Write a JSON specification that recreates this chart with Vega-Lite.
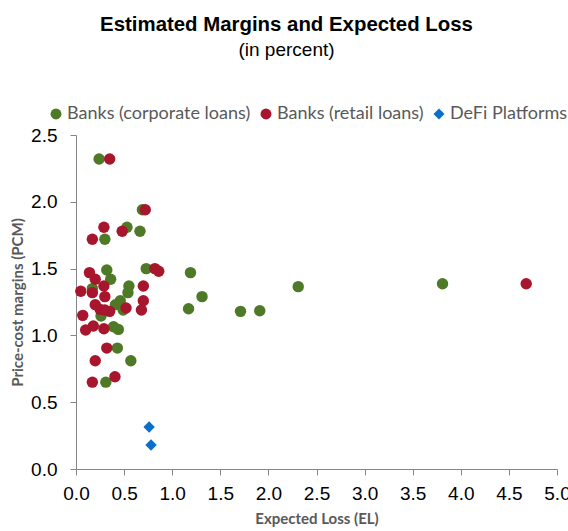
{
  "$schema": "https://vega.github.io/schema/vega-lite/v6.json",
  "autosize": "none",
  "width": 481,
  "height": 334,
  "padding": {"left": 76, "top": 135, "right": 11, "bottom": 62},
  "title": {
    "text": "Estimated Margins and Expected Loss",
    "subtitle": "(in percent)",
    "frame": "group",
    "anchor": "middle",
    "dx": -30,
    "offset": 45,
    "font": "Liberation Sans",
    "fontSize": 20.4,
    "fontWeight": "bold",
    "color": "#000000",
    "subtitleFont": "Liberation Sans",
    "subtitleFontSize": 19,
    "subtitleColor": "#000000",
    "subtitlePadding": 6
  },
  "config": {"view": {"stroke": null}},
  "data": {
    "values": [
      {"series": "Banks (corporate loans)", "el": 0.24, "pcm": 2.32},
      {"series": "Banks (corporate loans)", "el": 0.69, "pcm": 1.94},
      {"series": "Banks (corporate loans)", "el": 0.53, "pcm": 1.81},
      {"series": "Banks (corporate loans)", "el": 0.665, "pcm": 1.78},
      {"series": "Banks (corporate loans)", "el": 0.30, "pcm": 1.72},
      {"series": "Banks (corporate loans)", "el": 0.32, "pcm": 1.49},
      {"series": "Banks (corporate loans)", "el": 0.73, "pcm": 1.50},
      {"series": "Banks (corporate loans)", "el": 1.19, "pcm": 1.47},
      {"series": "Banks (corporate loans)", "el": 0.36, "pcm": 1.42},
      {"series": "Banks (corporate loans)", "el": 0.17, "pcm": 1.35},
      {"series": "Banks (corporate loans)", "el": 0.55, "pcm": 1.37},
      {"series": "Banks (corporate loans)", "el": 0.54, "pcm": 1.32},
      {"series": "Banks (corporate loans)", "el": 1.31, "pcm": 1.29},
      {"series": "Banks (corporate loans)", "el": 0.46, "pcm": 1.26},
      {"series": "Banks (corporate loans)", "el": 0.41, "pcm": 1.23},
      {"series": "Banks (corporate loans)", "el": 0.49, "pcm": 1.19},
      {"series": "Banks (corporate loans)", "el": 1.17, "pcm": 1.20},
      {"series": "Banks (corporate loans)", "el": 0.26, "pcm": 1.145},
      {"series": "Banks (corporate loans)", "el": 1.71, "pcm": 1.18},
      {"series": "Banks (corporate loans)", "el": 1.91, "pcm": 1.185},
      {"series": "Banks (corporate loans)", "el": 2.31, "pcm": 1.365},
      {"series": "Banks (corporate loans)", "el": 3.81, "pcm": 1.387},
      {"series": "Banks (corporate loans)", "el": 0.39, "pcm": 1.065},
      {"series": "Banks (corporate loans)", "el": 0.44, "pcm": 1.045},
      {"series": "Banks (corporate loans)", "el": 0.43, "pcm": 0.905},
      {"series": "Banks (corporate loans)", "el": 0.57, "pcm": 0.81},
      {"series": "Banks (corporate loans)", "el": 0.31, "pcm": 0.65},
      {"series": "Banks (retail loans)", "el": 0.35, "pcm": 2.32},
      {"series": "Banks (retail loans)", "el": 0.72, "pcm": 1.94},
      {"series": "Banks (retail loans)", "el": 0.29, "pcm": 1.81},
      {"series": "Banks (retail loans)", "el": 0.48, "pcm": 1.78},
      {"series": "Banks (retail loans)", "el": 0.17, "pcm": 1.72},
      {"series": "Banks (retail loans)", "el": 0.82, "pcm": 1.50},
      {"series": "Banks (retail loans)", "el": 0.86, "pcm": 1.48},
      {"series": "Banks (retail loans)", "el": 0.14, "pcm": 1.47},
      {"series": "Banks (retail loans)", "el": 0.20, "pcm": 1.42},
      {"series": "Banks (retail loans)", "el": 0.05, "pcm": 1.33},
      {"series": "Banks (retail loans)", "el": 0.17, "pcm": 1.32},
      {"series": "Banks (retail loans)", "el": 0.29, "pcm": 1.37},
      {"series": "Banks (retail loans)", "el": 0.70, "pcm": 1.37},
      {"series": "Banks (retail loans)", "el": 0.30, "pcm": 1.29},
      {"series": "Banks (retail loans)", "el": 0.70, "pcm": 1.26},
      {"series": "Banks (retail loans)", "el": 0.20, "pcm": 1.23},
      {"series": "Banks (retail loans)", "el": 0.25, "pcm": 1.195},
      {"series": "Banks (retail loans)", "el": 0.30, "pcm": 1.19},
      {"series": "Banks (retail loans)", "el": 0.35, "pcm": 1.18},
      {"series": "Banks (retail loans)", "el": 0.52, "pcm": 1.205},
      {"series": "Banks (retail loans)", "el": 0.68, "pcm": 1.19},
      {"series": "Banks (retail loans)", "el": 0.07, "pcm": 1.15},
      {"series": "Banks (retail loans)", "el": 0.10, "pcm": 1.04},
      {"series": "Banks (retail loans)", "el": 0.18, "pcm": 1.07},
      {"series": "Banks (retail loans)", "el": 0.29, "pcm": 1.05},
      {"series": "Banks (retail loans)", "el": 0.32, "pcm": 0.905},
      {"series": "Banks (retail loans)", "el": 0.20, "pcm": 0.81},
      {"series": "Banks (retail loans)", "el": 0.17, "pcm": 0.65},
      {"series": "Banks (retail loans)", "el": 0.405, "pcm": 0.69},
      {"series": "Banks (retail loans)", "el": 4.68, "pcm": 1.387},
      {"series": "DeFi Platforms", "el": 0.76, "pcm": 0.314},
      {"series": "DeFi Platforms", "el": 0.78, "pcm": 0.18}
    ]
  },
  "mark": {"type": "point", "filled": true, "opacity": 1, "size": 130},
  "encoding": {
    "x": {
      "field": "el", "type": "quantitative",
      "scale": {"domain": [0, 5], "nice": false, "zero": true},
      "axis": {
        "title": "Expected Loss (EL)",
        "values": [0, 0.5, 1, 1.5, 2, 2.5, 3, 3.5, 4, 4.5, 5],
        "format": ".1f",
        "grid": false,
        "labelFlush": false,
        "labelBound": false,
        "domainColor": "#868686",
        "tickColor": "#868686",
        "tickSize": 6,
        "labelFont": "Liberation Sans",
        "labelFontSize": 19,
        "labelColor": "#000000",
        "labelPadding": 9,
        "titleFont": "Lato",
        "titleFontSize": 15,
        "titleFontWeight": "bold",
        "titleColor": "#595959",
        "titlePadding": 8
      }
    },
    "y": {
      "field": "pcm", "type": "quantitative",
      "scale": {"domain": [0, 2.5], "nice": false},
      "axis": {
        "title": "Price-cost margins (PCM)",
        "values": [0, 0.5, 1, 1.5, 2, 2.5],
        "format": ".1f",
        "grid": false,
        "domainColor": "#868686",
        "tickColor": "#868686",
        "tickSize": 6,
        "labelFont": "Liberation Sans",
        "labelFontSize": 19,
        "labelColor": "#000000",
        "labelPadding": 13,
        "titleFont": "Lato",
        "titleFontSize": 15,
        "titleFontWeight": "bold",
        "titleColor": "#595959",
        "titlePadding": 5
      }
    },
    "color": {
      "field": "series", "type": "nominal",
      "scale": {
        "domain": ["Banks (corporate loans)", "Banks (retail loans)", "DeFi Platforms"],
        "range": ["#4E7A27", "#A8162E", "#0A6FCB"]
      },
      "legend": {
        "title": null,
        "orient": "none",
        "direction": "horizontal",
        "legendX": -29,
        "legendY": -30,
        "labelFont": "Lato",
        "labelFontSize": 18,
        "labelLimit": 400,
        "labelColor": "#595959",
        "symbolSize": 120,
        "symbolOpacity": 1,
        "columnPadding": 6,
        "labelOffset": 2
      }
    },
    "shape": {
      "field": "series", "type": "nominal",
      "scale": {
        "domain": ["Banks (corporate loans)", "Banks (retail loans)", "DeFi Platforms"],
        "range": ["circle", "circle", "diamond"]
      },
      "legend": null
    }
  }
}
